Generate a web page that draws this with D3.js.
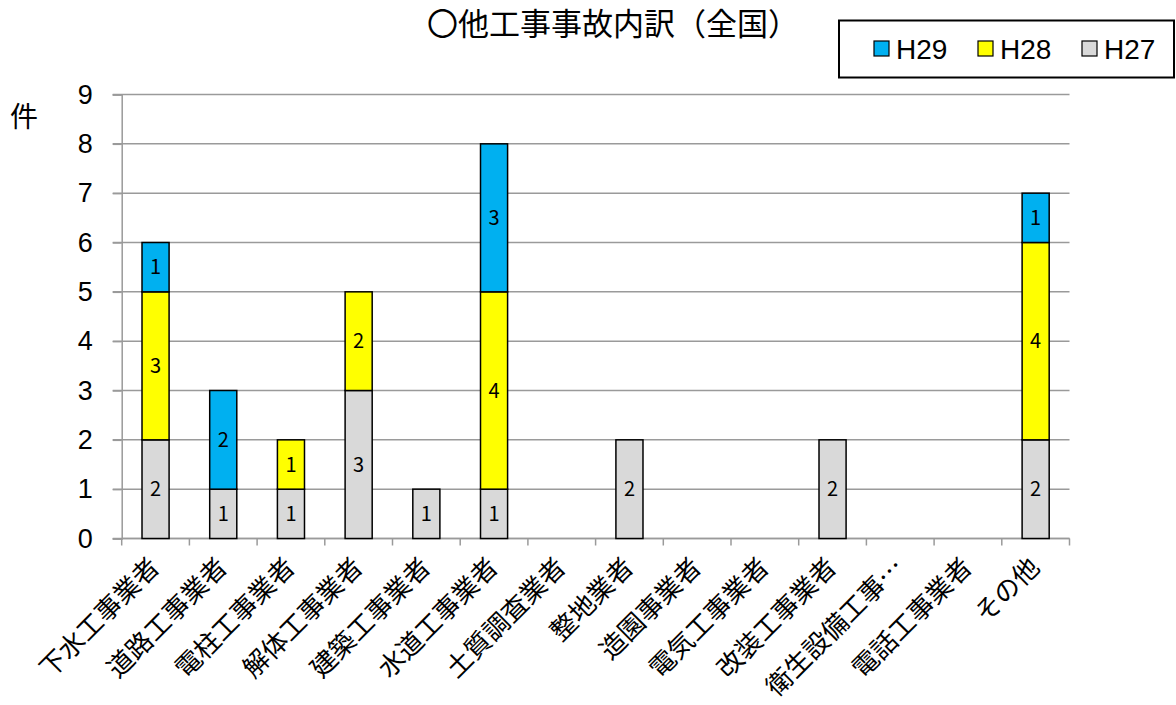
<!DOCTYPE html>
<html><head><meta charset="utf-8">
<script src="https://cdn.jsdelivr.net/npm/d3@7"></script>
<style>body{margin:0;background:#fff}svg{display:block}</style>
</head><body>
<svg id="c" width="1176" height="705"></svg>
<script>
const categories = ["下水工事業者","道路工事業者","電柱工事業者","解体工事業者","建築工事業者","水道工事業者","土質調査業者","整地業者","造園事業者","電気工事業者","改装工事業者","衛生設備工事…","電話工事業者","その他"];
const h27 = [2,1,1,3,1,1,0,2,0,0,2,0,0,2];
const h28 = [3,0,1,2,0,4,0,0,0,0,0,0,0,4];
const h29 = [1,2,0,0,0,3,0,0,0,0,0,0,0,1];
const seriesNames = ["H27","H28","H29"];
const seriesColors = ["#d9d9d9","#ffff00","#00b0f0"];
const yTicks = [0,1,2,3,4,5,6,7,8,9];
const title = "〇他工事事故内訳（全国）";
const yUnit = "件";

const svg = d3.select("#c");
const font = "'Noto Sans CJK JP', 'Liberation Sans', sans-serif";
const narrow = "'Liberation Sans Narrow', 'Liberation Sans', Arial, sans-serif";
const L = 121.7, R = 1069.5, T = 94.5, B = 538.5;

const x = d3.scaleBand().domain(categories).range([L, R]).paddingInner(0.6).paddingOuter(0.3);
const xb = d3.scaleBand().domain(categories).range([L, R]);
const y = d3.scaleLinear().domain([0, 9]).range([B, T]);

// gridlines
svg.append("g").selectAll("line").data(yTicks).join("line")
  .attr("x1", L - 9).attr("x2", R).attr("y1", d => y(d)).attr("y2", d => y(d))
  .attr("stroke", "#9a9a9a").attr("stroke-width", 1.5);

// y axis
const yAxis = svg.append("g").attr("transform", `translate(${L},0)`)
  .call(d3.axisLeft(y).tickValues(yTicks).tickSize(9).tickFormat(d3.format("d")));
yAxis.select(".domain").attr("stroke", "#9a9a9a").attr("stroke-width", 1.5);
yAxis.selectAll(".tick line").attr("stroke", "#9a9a9a").attr("stroke-width", 1.5);
yAxis.selectAll(".tick text").attr("font-family", narrow)
  .attr("font-size", 27).attr("fill", "#000").attr("x", -29);

// x axis ticks at boundaries
const bounds = categories.map(c => xb(c)).concat([R]);
svg.append("g").selectAll("line").data(bounds).join("line")
  .attr("x1", d => d).attr("x2", d => d).attr("y1", B).attr("y2", B + 7)
  .attr("stroke", "#9a9a9a").attr("stroke-width", 1.5);
svg.append("line").attr("x1", L).attr("x2", R).attr("y1", B).attr("y2", B)
  .attr("stroke", "#9a9a9a").attr("stroke-width", 1.5);

// stacked bars
const rows = categories.map((c, i) => ({cat: c, H27: h27[i], H28: h28[i], H29: h29[i]}));
const stack = d3.stack().keys(seriesNames)(rows);
const color = d3.scaleOrdinal().domain(seriesNames).range(seriesColors);

stack.forEach(layer => {
  const g = svg.append("g");
  const segs = layer.filter(d => d[1] - d[0] > 0);
  g.selectAll("rect").data(segs).join("rect")
    .attr("x", d => x(d.data.cat)).attr("width", x.bandwidth())
    .attr("y", d => y(d[1])).attr("height", d => y(d[0]) - y(d[1]))
    .attr("fill", color(layer.key)).attr("stroke", "#000").attr("stroke-width", 1.5);
  g.selectAll("text").data(segs).join("text")
    .attr("x", d => x(d.data.cat) + x.bandwidth() / 2)
    .attr("y", d => (y(d[0]) + y(d[1])) / 2)
    .attr("dy", "0.35em").attr("text-anchor", "middle")
    .attr("font-family", font).attr("font-size", 20).attr("fill", "#000")
    .text(d => d[1] - d[0]);
});

// x labels
svg.append("g").selectAll("text").data(categories).join("text")
  .attr("transform", d => `translate(${xb(d) + xb.bandwidth() / 2 - 1},${B + 24}) rotate(-45)`)
  .attr("text-anchor", "end").attr("dy", "0.35em")
  .attr("font-family", font).attr("font-size", 26).attr("fill", "#000")
  .text(d => d);

// title
svg.append("text").attr("x", 613).attr("y", 35).attr("text-anchor", "middle")
  .attr("font-family", font).attr("font-size", 31).attr("fill", "#000").text(title);

// y unit
svg.append("text").attr("x", 10).attr("y", 127).attr("font-family", font)
  .attr("font-size", 28).attr("fill", "#000").text(yUnit);

// legend
svg.append("rect").attr("x", 839).attr("y", 20.5).attr("width", 335).attr("height", 57)
  .attr("fill", "#fff").attr("stroke", "#000").attr("stroke-width", 2);
const legendItems = ["H29","H28","H27"];
const legendX = [874, 978, 1082];
const lg = svg.append("g").selectAll("g").data(legendItems).join("g")
  .attr("transform", (d, i) => `translate(${legendX[i]},41)`);
lg.append("rect").attr("width", 15).attr("height", 15)
  .attr("fill", d => color(d)).attr("stroke", "#000").attr("stroke-width", 1.2);
lg.append("text").attr("x", 22).attr("y", 8).attr("dy", "0.35em")
  .attr("font-family", narrow).attr("font-size", 28).attr("fill", "#000")
  .text(d => d);
</script>
</body></html>
